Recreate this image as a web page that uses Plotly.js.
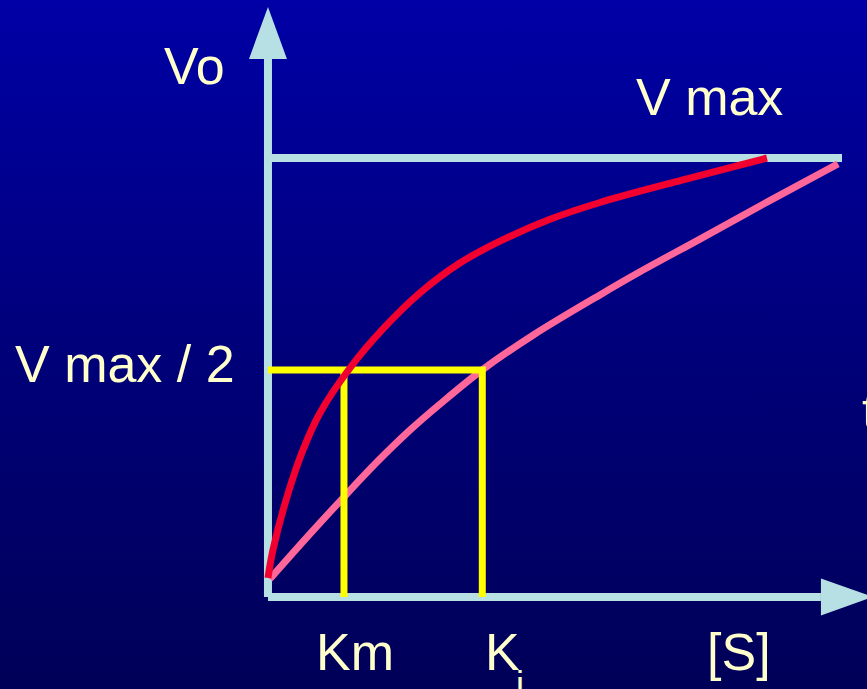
<!DOCTYPE html>
<html>
<head>
<meta charset="utf-8">
<script src="https://cdn.plot.ly/plotly-3.0.1.min.js"></script>
<style>
  html, body { margin: 0; padding: 0; width: 867px; height: 689px; overflow: hidden; }
  body { background: linear-gradient(to bottom, #0000a6 0%, #00007a 50%, #000058 100%); }
  #chart { width: 867px; height: 689px; }
</style>
</head>
<body>
<div id="chart"></div>
<script>
// ---- data (S in units of Km, V in units of Vmax) ----
const redS  = [0, 0.066, 0.25, 0.461, 0.684, 1.079, 1.513, 2.0, 2.526, 3.053, 3.711, 4.368, 5.461, 6.566];
const redV  = [0, 0.067, 0.193, 0.305, 0.393, 0.500, 0.593, 0.679, 0.750, 0.802, 0.854, 0.894, 0.948, 1.0];
const pinkS = [0.026, 0.553, 0.974, 1.434, 1.868, 2.263, 2.816, 3.487, 4.368, 4.895, 5.684, 6.566, 7.50];
const pinkV = [-0.002, 0.105, 0.188, 0.276, 0.352, 0.414, 0.495, 0.578, 0.674, 0.729, 0.807, 0.895, 0.986];

const Km = 1.0;          // [S] at which red curve reaches Vmax/2
const Ki = 2.82;         // [S] at which pink curve reaches Vmax/2
const vMax = 1.0;
const vHalf = 0.495;

// axis extents (data units)
const xAxisY = -0.045;     // where the [S] axis is drawn
const xAxisEnd = 7.276;    // base of the [S] arrow
const yAxisEnd = 1.236;    // base of the Vo arrow
const vMaxLineEnd = 7.553; // right end of the Vmax line

const labelVo = 'Vo';
const labelVmax = 'V max';
const labelVhalf = 'V max / 2';
const labelKm = 'Km';
const labelK = 'K';
const labelKsub = 'i';
const labelS = '[S]';
const labelCut = 't';

// ---- styles ----
const axisColor = '#b6e0e3';
const redColor = '#f20030';
const pinkColor = '#ff6699';
const yellow = '#ffff00';
const textColor = '#ffffcc';
const font = { family: 'Liberation Sans, Arial, sans-serif', size: 52, color: textColor };
const subFont = { family: 'Liberation Sans, Arial, sans-serif', size: 36, color: textColor };

const traces = [
  { x: pinkS, y: pinkV, mode: 'lines', line: { color: pinkColor, width: 7, shape: 'spline', smoothing: 1 }, hoverinfo: 'skip' },
  { x: [0, Ki, Ki], y: [vHalf, vHalf, xAxisY], mode: 'lines', line: { color: yellow, width: 7 }, hoverinfo: 'skip' },
  { x: [Km, Km], y: [vHalf, xAxisY], mode: 'lines', line: { color: yellow, width: 7 }, hoverinfo: 'skip' },
  { x: redS, y: redV, mode: 'lines', line: { color: redColor, width: 7, shape: 'spline', smoothing: 1 }, hoverinfo: 'skip' }
];

const shapes = [
  // Vo axis
  { type: 'line', layer: 'below', x0: 0, x1: 0, y0: xAxisY, y1: yAxisEnd, line: { color: axisColor, width: 8 } },
  // [S] axis
  { type: 'line', layer: 'below', x0: 0, x1: xAxisEnd, y0: xAxisY, y1: xAxisY, line: { color: axisColor, width: 8 } },
  // Vmax line
  { type: 'line', layer: 'below', x0: 0, x1: vMaxLineEnd, y0: vMax, y1: vMax, line: { color: axisColor, width: 8 } },
  // arrow heads
  { type: 'path', layer: 'below', xsizemode: 'pixel', ysizemode: 'pixel', xanchor: 0, yanchor: yAxisEnd,
    path: 'M-19,0 L19,0 L0,52 Z', fillcolor: axisColor, line: { width: 0 } },
  { type: 'path', layer: 'below', xsizemode: 'pixel', ysizemode: 'pixel', xanchor: xAxisEnd, yanchor: xAxisY,
    path: 'M0,-18.5 L0,18.5 L52,0 Z', fillcolor: axisColor, line: { width: 0 } }
];

const annotations = [
  { text: labelVo, x: -0.961, y: 1.219, xanchor: 'center', yanchor: 'middle' },
  { text: labelVmax, x: 5.816, y: 1.145, xanchor: 'center', yanchor: 'middle' },
  { text: labelVhalf, x: -0.408, y: vHalf, yshift: 6, xanchor: 'right', yanchor: 'middle' },
  { text: labelKm, x: Km, xshift: 11.5, y: -0.176, xanchor: 'center', yanchor: 'middle' },
  { text: labelK, x: Ki, xshift: 1, y: -0.176, xanchor: 'left', yanchor: 'middle' },
  { text: labelKsub, x: Ki, xshift: 32, y: -0.200, xanchor: 'left', yanchor: 'top', font: subFont },
  { text: labelS, x: 6.204, y: -0.176, xanchor: 'center', yanchor: 'middle' },
  { text: labelCut, x: 7.79, y: 0.4, xanchor: 'left', yanchor: 'middle' }
].map(a => Object.assign({ showarrow: false, font: font, xref: 'x', yref: 'y' }, a));

const layout = {
  width: 867, height: 689,
  margin: { l: 0, r: 0, t: 0, b: 0, pad: 0 },
  paper_bgcolor: 'rgba(0,0,0,0)',
  plot_bgcolor: 'rgba(0,0,0,0)',
  showlegend: false,
  xaxis: { range: [-3.526, 7.882], visible: false, fixedrange: true },
  yaxis: { range: [-0.2643, 1.3762], visible: false, fixedrange: true },
  shapes: shapes,
  annotations: annotations
};

Plotly.newPlot('chart', traces, layout, { staticPlot: true, displayModeBar: false });
</script>
</body>
</html>
